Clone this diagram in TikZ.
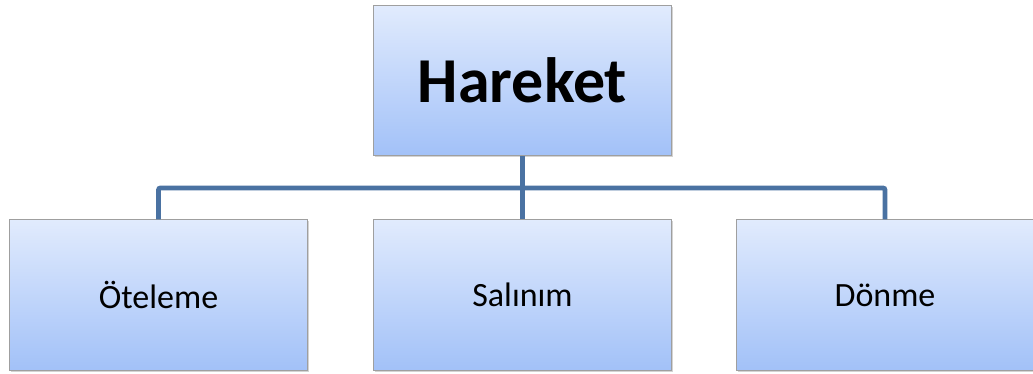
\documentclass[tikz,border=0pt]{standalone}
\usepackage{fontspec}
\setmainfont{Carlito}
\usetikzlibrary{shadows}

\definecolor{boxtop}{HTML}{E1EBFD}
\definecolor{boxbottom}{HTML}{A2C1F8}
\definecolor{linkblue}{HTML}{4A72A2}

\tikzset{
  catbox/.style={draw=gray!75, line width=0.6pt, top color=boxtop, bottom color=boxbottom,
    minimum width=223pt, minimum height=113pt, inner sep=0pt,
    drop shadow={opacity=0.35, shadow xshift=1.2pt, shadow yshift=-1.2pt}},
  subbox/.style={catbox, font=\fontsize{25.5}{30}\selectfont},
  link/.style={draw=linkblue, line width=3.6pt, rounded corners=1.5pt}
}

\begin{document}
\begin{tikzpicture}[x=0.75pt,y=0.75pt]
				\useasboundingbox (0,0) rectangle (1033,374);
				\node[catbox, font=\bfseries\fontsize{48}{52}\selectfont] (hareket) at (522.5,293.5) {Hareket};
				\node[subbox] (oteleme) at (158.5,79) {Öteleme};
				\node[subbox] (salinim) at (522.5,79) {Salınım};
				\node[subbox] (donme) at (885,79) {Dönme};
				\coordinate (bus) at (522.5,186);
				\draw[link] (hareket.south) -- (bus);
				\draw[link] (oteleme.north) |- (bus) -| (donme.north);
				\draw[link] (salinim.north) -- (bus);
			\end{tikzpicture}
\end{document}
